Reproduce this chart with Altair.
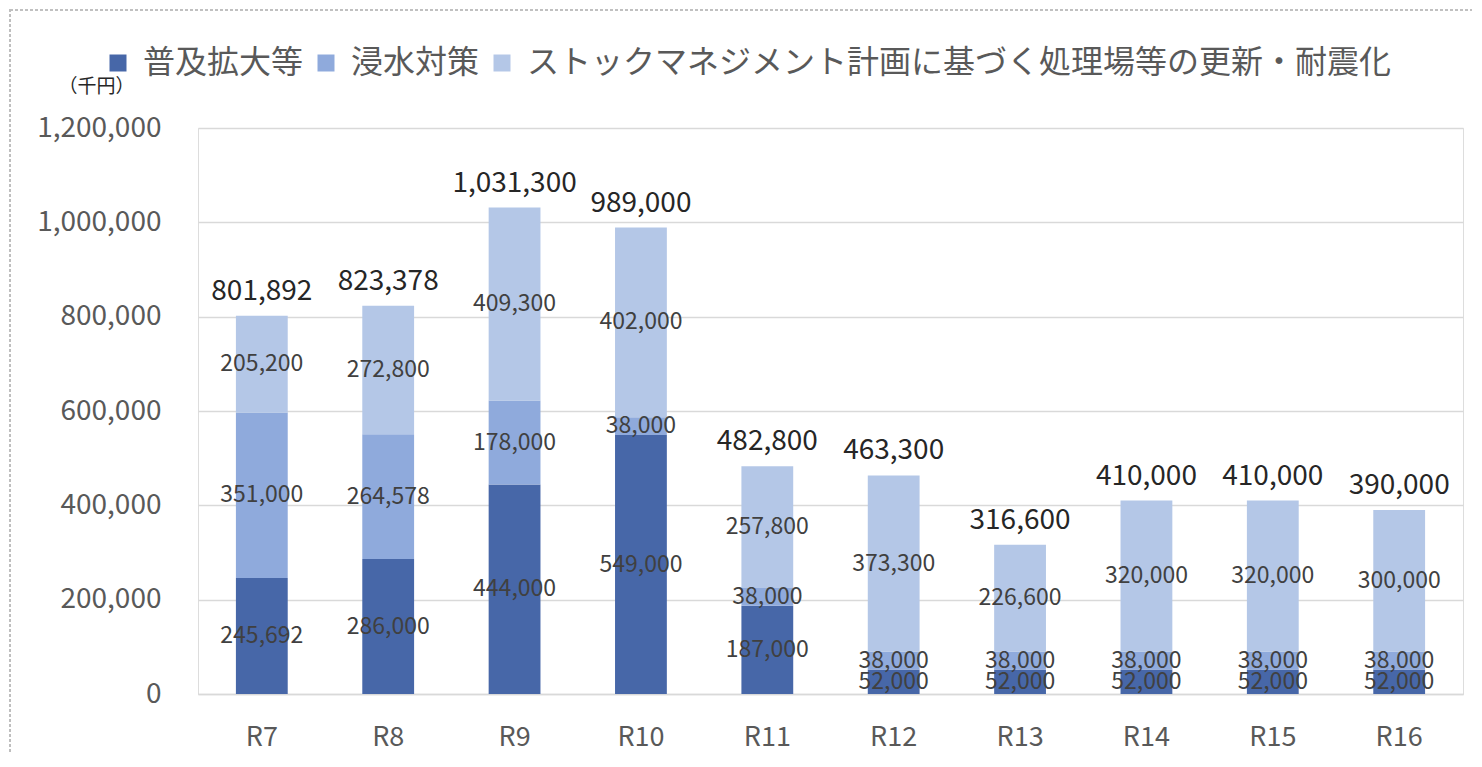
import altair as alt
import pandas as pd

years = ["R7", "R8", "R9", "R10", "R11", "R12", "R13", "R14", "R15", "R16"]
series = ["普及拡大等", "浸水対策", "ストックマネジメント計画に基づく処理場等の更新・耐震化"]
fukyu = [245692, 286000, 444000, 549000, 187000, 52000, 52000, 52000, 52000, 52000]
shinsui = [351000, 264578, 178000, 38000, 38000, 38000, 38000, 38000, 38000, 38000]
stock = [205200, 272800, 409300, 402000, 257800, 373300, 226600, 320000, 320000, 300000]
colors = ["#4767A8", "#8FAADC", "#B4C7E7"]

rows = []
for i, y in enumerate(years):
    for k, vals in enumerate([fukyu, shinsui, stock]):
        rows.append({"year": y, "series": series[k], "order": k, "value": vals[i]})
df = pd.DataFrame(rows)
tot = pd.DataFrame({"year": years, "total": [a + b + c for a, b, c in zip(fukyu, shinsui, stock)]})

FONT = "Noto Sans CJK JP"
xenc = alt.X("year:N", sort=years, title=None,
             scale=alt.Scale(paddingInner=0.59, paddingOuter=0.3),
             axis=alt.Axis(labelFontSize=27, labelColor="#595959", labelFont=FONT,
                           ticks=False, domainColor="#D9D9D9", domainWidth=1.5,
                           labelPadding=30, labelAngle=0))
yscale = alt.Scale(domain=[0, 1200000])
yaxis = alt.Axis(values=[0, 200000, 400000, 600000, 800000, 1000000, 1200000],
                 format=",.0f", labelFontSize=28, labelColor="#595959", labelFont=FONT,
                 ticks=False, domain=False, gridColor="#D9D9D9", gridWidth=1.5,
                 labelPadding=37, title="（千円）", titleAngle=0, titleFont=FONT,
                 titleFontSize=19, titleFontWeight="normal", titleColor="#262626",
                 titleX=-140, titleY=-32, titleAlign="left")

bars = alt.Chart(df).mark_bar().encode(
    x=xenc,
    y=alt.Y("value:Q", stack="zero", scale=yscale, axis=yaxis),
    color=alt.Color("series:N", sort=series,
                    scale=alt.Scale(domain=series, range=colors),
                    legend=alt.Legend(title=None, orient="none", direction="horizontal",
                                      legendX=-96, legendY=-81, symbolType="square",
                                      symbolSize=289, symbolStrokeWidth=0,
                                      labelFontSize=32, labelColor="#595959", labelFont=FONT,
                                      columnPadding=6, labelLimit=1300, symbolOffset=0,
                                      labelOffset=9)),
    order=alt.Order("order:Q"),
)

seg = alt.Chart(df).transform_stack(
    stack="value", groupby=["year"], as_=["y0", "y1"], sort=[alt.SortField("order")]
).transform_calculate(mid="(datum.y0 + datum.y1) / 2").mark_text(
    fontSize=23, color="#404040", font=FONT, baseline="middle"
).encode(x=alt.X("year:N", sort=years), y=alt.Y("mid:Q", scale=yscale, axis=yaxis),
         text=alt.Text("value:Q", format=","))

tots = alt.Chart(tot).mark_text(
    fontSize=28, color="#262626", font=FONT, baseline="bottom", dy=-10
).encode(x=alt.X("year:N", sort=years), y=alt.Y("total:Q", scale=yscale, axis=yaxis),
         text=alt.Text("total:Q", format=","))

border = alt.Chart(tot).mark_rect(
    fill=None, stroke="#BFBFBF", strokeDash=[3, 2], strokeWidth=1.2
).encode(x=alt.value(-188), x2=alt.value(1320), y=alt.value(-118), y2=alt.value(700))

chart = alt.layer(border, bars, seg, tots).properties(
    width=1265, height=566,
    autosize=alt.AutoSizeParams(type="none"),
    padding={"left": 190, "top": 120, "right": 9, "bottom": 60},
).configure_view(strokeWidth=0).configure(background="white")

chart.save("out.html", embed_options={"renderer": "svg", "actions": False})
